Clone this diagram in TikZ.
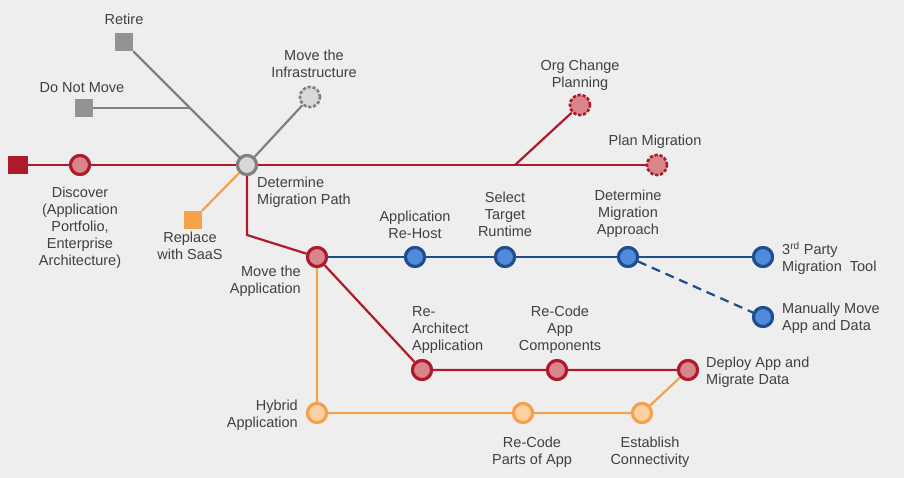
\documentclass[tikz,border=0pt]{standalone}
\usepackage{fontspec}
\setmainfont{Liberation Sans}
\definecolor{bstroke}{HTML}{1F4E8C}
\definecolor{bfill}{HTML}{4F8BDA}
\definecolor{rstroke}{HTML}{AE1A2C}
\definecolor{rfill}{HTML}{D9858C}
\definecolor{ostroke}{HTML}{F5A14C}
\definecolor{ofill}{HTML}{FCD2A4}
\begin{document}
\begin{tikzpicture}[x=1pt,y=-1pt,
  lbl/.style={font=\fontsize{14.5}{17}\selectfont,text=black!75,align=center,inner sep=0pt},
  st/.style={circle,minimum size=19pt,inner sep=0pt,line width=3pt},
  redst/.style={st,draw=rstroke,fill=rfill},
  bluest/.style={st,draw=bstroke,fill=bfill},
  orst/.style={st,draw=ostroke,fill=ofill},
  grayst/.style={st,draw=gray,fill=gray!30},
  dgray/.style={st,draw=gray,fill=gray!30,dash pattern=on 3pt off 2pt,line width=2.5pt,minimum size=20pt},
  dred/.style={st,draw=rstroke,fill=rfill,dash pattern=on 3pt off 2pt,line width=2.5pt,minimum size=20pt},
  sq/.style={rectangle,minimum size=18pt,inner sep=0pt},
  rl/.style={draw=rstroke,line width=2.2pt},
  bl/.style={draw=bstroke,line width=2.2pt},
  ol/.style={draw=ostroke,line width=2.2pt},
  gl/.style={draw=gray,line width=2.2pt}]
\fill[gray!13] (0,0) rectangle (904,478);
\useasboundingbox (0,0) rectangle (904,478);
% nodes
\node[sq,fill=rstroke,minimum width=20pt] (start) at (18,165) {};
\node[redst] (disc) at (80,165) {};
\node[grayst] (det) at (247,165) {};
\node[sq,fill=gray!85] (ret) at (124,42) {};
\node[sq,fill=gray!85] (dnm) at (84,108) {};
\coordinate (j1) at (190,108);
\node[dgray] (inf) at (310,97) {};
\node[sq,fill=ostroke] (saas) at (193,220) {};
\node[dred] (org) at (580,105) {};
\node[dred] (plan) at (657,165) {};
\coordinate (j2) at (515,165);
\coordinate (j3) at (247,235);
\node[redst] (mov) at (317,257) {};
\node[bluest] (rh) at (415,257) {};
\node[bluest] (sel) at (505,257) {};
\node[bluest] (dma) at (628,257) {};
\node[bluest] (tp) at (763,257) {};
\node[bluest] (man) at (763,317) {};
\node[redst] (rea) at (422,370) {};
\node[redst] (rec) at (557,370) {};
\node[redst] (dep) at (688,370) {};
\node[orst] (hyb) at (317,413) {};
\node[orst] (rcp) at (523,413) {};
\node[orst] (est) at (642,413) {};
% lines
\draw[gl] (det) -- (ret.south east);
\draw[gl] (dnm) -- (j1);
\draw[gl] (det) -- (inf);
\draw[ol] (det) -- (saas);
\draw[rl] (start) -- (disc) -- (det) -- (plan);
\draw[rl] (j2) -- (org);
\draw[rl] (det) -- (j3) -- (mov);
\draw[bl] (mov) -- (rh) -- (sel) -- (dma) -- (tp);
\draw[bl,dash pattern=on 9pt off 6pt] (dma) -- (man);
\draw[rl] (mov) -- (rea) -- (rec) -- (dep);
\draw[ol] (mov) -- (hyb) -- (rcp) -- (est) -- (dep);
% redraw stations on top
\node[redst] at (disc) {};
\node[grayst] at (det) {};
\node[redst] at (mov) {};
\foreach \n in {rh,sel,dma,tp,man} \node[bluest] at (\n) {};
\foreach \n in {rea,rec,dep} \node[redst] at (\n) {};
\foreach \n in {hyb,rcp,est} \node[orst] at (\n) {};
\node[dgray] at (inf) {};
\node[dred] at (org) {};
\node[dred] at (plan) {};
% labels
\node[lbl] (l1) at (124,19) {Retire};
\node[lbl] (l2) at (82,88) {Do Not Move};
\node[lbl] (l3) at (314,64) {Move the\\Infrastructure};
\node[lbl] (l4) at (80,228) {Discover\\(Application\\Portfolio,\\Enterprise\\Architecture)};
\node[lbl,align=left,anchor=west] (l5) at (257,192) {Determine\\Migration Path};
\node[lbl] (l6) at (190,246) {Replace\\with SaaS};
\node[lbl,align=right,anchor=east] (l7) at (301,281) {Move the\\Application};
\node[lbl] (l8) at (580,75) {Org Change\\Planning};
\node[lbl] (l9) at (655,142) {Plan Migration};
\node[lbl] (l10) at (415,225) {Application\\Re-Host};
\node[lbl] (l11) at (505,214) {Select\\Target\\Runtime};
\node[lbl] (l12) at (628,214) {Determine\\Migration\\Approach};
\node[lbl,align=left,anchor=west] (l13) at (782,258) {3\textsuperscript{rd} Party\\Migration~~Tool};
\node[lbl,align=left,anchor=west] (l14) at (782,318) {Manually Move\\App and Data};
\node[lbl,align=left,anchor=west] (l15) at (412,330) {Re-\\Architect\\Application};
\node[lbl] (l16) at (560,330) {Re-Code\\App\\Components};
\node[lbl,align=left,anchor=west] (l17) at (706,372) {Deploy App and\\Migrate Data};
\node[lbl,align=right,anchor=east] (l18) at (298,415) {Hybrid\\Application};
\node[lbl] (l19) at (532,452) {Re-Code\\Parts of App};
\node[lbl] (l20) at (650,452) {Establish\\Connectivity};
\end{tikzpicture}
\end{document}
